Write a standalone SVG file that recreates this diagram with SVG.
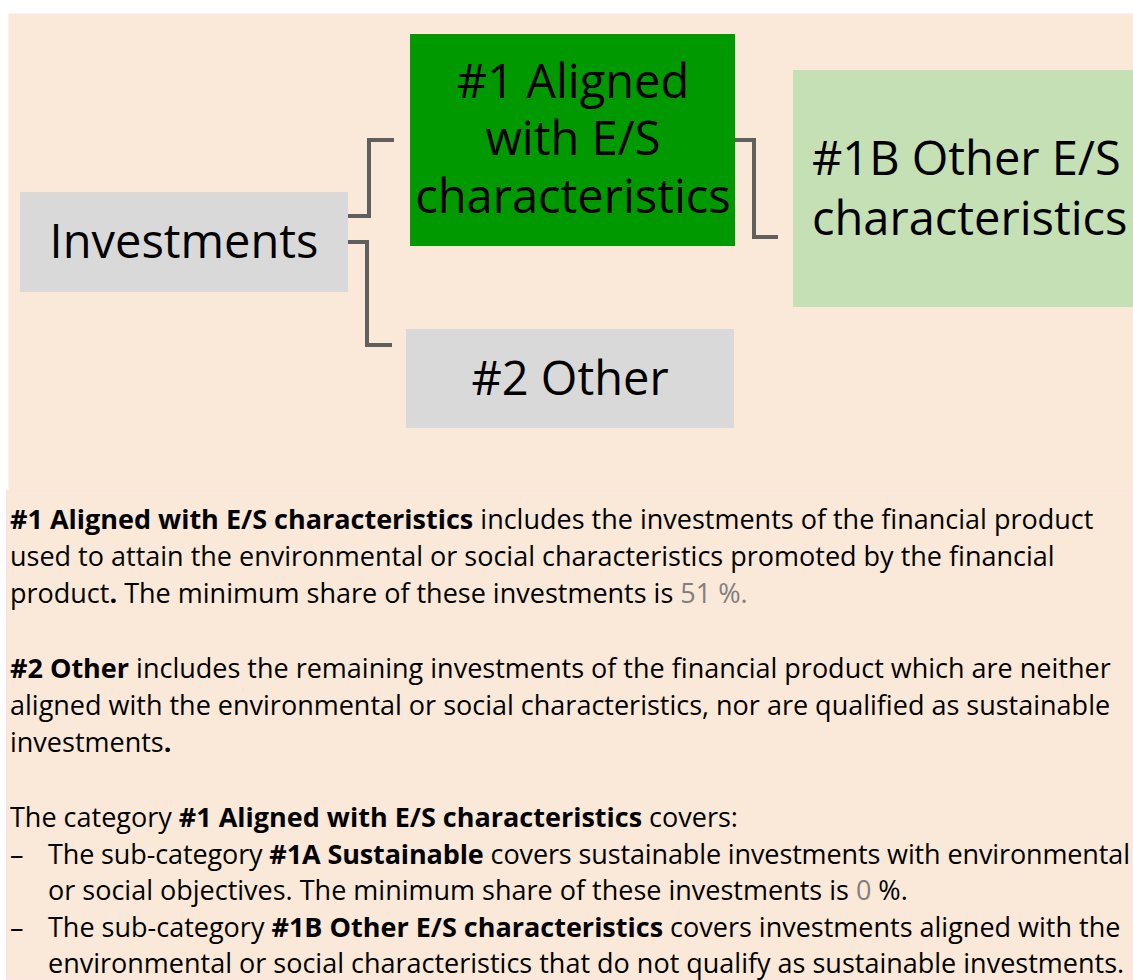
<svg xmlns="http://www.w3.org/2000/svg" width="1133" height="980" viewBox="0 0 1133 980">
<style>
.t{font-family:"Open Sans","Noto Sans","Liberation Sans",sans-serif;fill:#000}
.big{font-size:47px}
.body{font-size:27px}
.b{font-weight:bold}
.g{fill:#7f7f7f}
.conn{fill:none;stroke:#5f5f5f;stroke-width:4}
</style>
<rect x="0" y="0" width="1133" height="980" fill="#ffffff"/>
<rect x="9" y="14" width="1124" height="478" fill="#FAE8D8" stroke="#FCE6E0" stroke-width="1"/>
<rect x="7" y="491" width="1126" height="489" fill="#FAE8D8" stroke="#FDE4E0" stroke-width="2"/>
<g id="connectors">
<polyline class="conn" points="348,216 369,216 369,140 394,140"/>
<polyline class="conn" points="348,242 367,242 367,345 392,345"/>
<polyline class="conn" points="735,140 754,140 754,237 778,237" stroke="#6a6a6a"/>
</g>
<g id="investments">
<rect x="20" y="192" width="328" height="100" fill="#D9D9D9"/>
<text class="t big" x="184" y="258" text-anchor="middle">Investments</text>
</g>
<g id="aligned">
<rect x="410" y="34" width="325" height="212" fill="#009900"/>
<text class="t big" x="573" y="98" text-anchor="middle">#1 Aligned</text>
<text class="t big" x="573" y="155" text-anchor="middle">with E/S</text>
<text class="t big" x="573" y="213" text-anchor="middle">characteristics</text>
</g>
<g id="other1b">
<rect x="793" y="70" width="345" height="237" fill="#C5E0B4"/>
<text class="t big" x="812" y="175">#1B Other E/S</text>
<text class="t big" x="812" y="235">characteristics</text>
</g>
<g id="other2">
<rect x="406" y="329" width="328" height="99" fill="#D9D9D9"/>
<text class="t big" x="570" y="395" text-anchor="middle">#2 Other</text>
</g>
<g id="description" class="t body">
<text x="10" y="529"><tspan class="b">#1 Aligned with E/S characteristics</tspan> includes the investments of the financial product</text>
<text x="10" y="566">used to attain the environmental or social characteristics promoted by the financial</text>
<text x="10" y="603">product<tspan class="b">.</tspan> The minimum share of these investments is <tspan class="g">51 %.</tspan></text>
<text x="10" y="678"><tspan class="b">#2 Other</tspan> includes the remaining investments of the financial product which are neither</text>
<text x="10" y="715">aligned with the environmental or social characteristics, nor are qualified as sustainable</text>
<text x="10" y="752">investments<tspan class="b">.</tspan></text>
<text x="10" y="827">The category <tspan class="b">#1 Aligned with E/S characteristics</tspan> covers:</text>
<text x="10" y="864">–</text>
<text x="48" y="864" textLength="1082" lengthAdjust="spacing">The sub-category <tspan class="b">#1A Sustainable</tspan> covers sustainable investments with environmental</text>
<text x="48" y="900">or social objectives. The minimum share of these investments is <tspan class="g">0</tspan> %.</text>
<text x="10" y="937">–</text>
<text x="48" y="937">The sub-category <tspan class="b">#1B Other E/S characteristics</tspan> covers investments aligned with the</text>
<text x="48" y="973">environmental or social characteristics that do not qualify as sustainable investments.</text>
</g>
</svg>
